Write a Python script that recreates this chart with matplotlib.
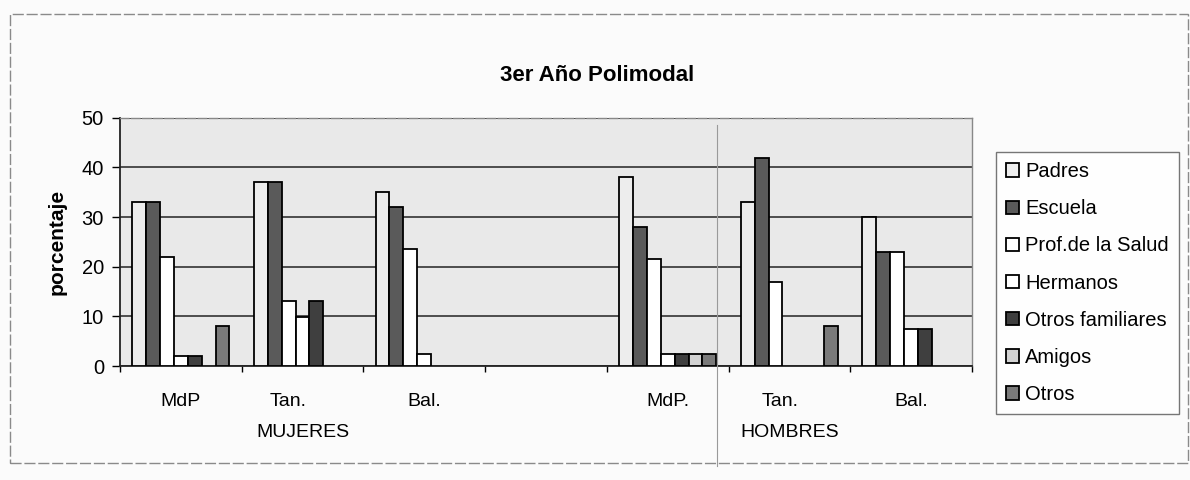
import numpy as np
import matplotlib
matplotlib.use("Agg")
import matplotlib.pyplot as plt
from matplotlib.patches import Rectangle
from matplotlib.lines import Line2D

plt.rcParams['font.family'] = ['Liberation Sans', 'DejaVu Sans']

# ---------------- data ----------------
categories = ['MdP', 'Tan.', 'Bal.', '', 'MdP.', 'Tan.', 'Bal.']
groups = ['MUJERES', 'HOMBRES']
group_center_index = [1, 5]
series_names = ['Padres', 'Escuela', 'Prof.de la Salud', 'Hermanos',
                'Otros familiares', 'Amigos', 'Otros']
padres = [33, 37, 35, 0, 38, 33, 30]
escuela = [33, 37, 32, 0, 28, 42, 23]
prof_salud = [22, 13, 23.5, 0, 21.5, 17, 23]
hermanos = [2, 9.8, 2.5, 0, 2.5, 0, 7.5]
otros_familiares = [2, 13, 0, 0, 2.5, 0, 7.5]
amigos = [0, 0, 0, 0, 2.5, 0, 0]
otros = [8, 0, 0, 0, 2.5, 8, 0]
yticks = [0, 10, 20, 30, 40, 50]

series = [padres, escuela, prof_salud, hermanos, otros_familiares, amigos, otros]

# ---------------- style ----------------
colors = ['#ededed', '#5a5a5a', '#ffffff', '#ffffff', '#3f3f3f', '#d2d2d2', '#7a7a7a']
label_offsets = [0, -0.12, 0, 0, 0, -0.08, 0]

fig = plt.figure(figsize=(11.9, 4.8), dpi=100)
fig.patch.set_facecolor('#fbfbfb')
ax = fig.add_axes([0.1008, 0.2375, 0.716, 0.517])
ax.set_facecolor('#e9e9e9')

n = len(series)
total_w = 0.8
w = total_w / n
x = np.arange(len(categories))
for i, (vals, c, name) in enumerate(zip(series, colors, series_names)):
    pos = x - total_w / 2 + w * (i + 0.5)
    v = np.array(vals, dtype=float)
    v = np.where(v > 0, v, np.nan)
    ax.bar(pos, v, width=w, color=c, edgecolor='black', linewidth=1.3,
           label=name, zorder=3)

ax.set_xlim(-0.5, len(categories) - 0.5)
ax.set_ylim(0, 50)
ax.set_yticks(yticks)
ax.set_yticklabels([str(t) for t in yticks], fontsize=14.5)
ax.yaxis.grid(True, color='#333333', linewidth=1.2, zorder=1)
ax.set_axisbelow(True)
ax.set_xticks(np.arange(len(categories) + 1) - 0.5)
ax.set_xticklabels([])
ax.tick_params(axis='x', length=4, width=1, direction='out')
ax.tick_params(axis='y', length=5.5, width=1, direction='out', pad=6)

for s in ['left', 'bottom']:
    ax.spines[s].set_color('#222222')
    ax.spines[s].set_linewidth(1.3)
for s in ['top', 'right']:
    ax.spines[s].set_color('#888888')
    ax.spines[s].set_linewidth(1.0)
ax.spines['top'].set_linestyle((0, (6, 2)))

for i, lab in enumerate(categories):
    if lab:
        ax.text(i + label_offsets[i], -7.1, lab, ha='center', va='center',
                fontsize=14, clip_on=False)
for gi, g in zip(group_center_index, groups):
    ax.text(gi, -13.3, g, ha='center', va='center', fontsize=14, clip_on=False)

ax.set_ylabel('porcentaje', fontsize=15, fontweight='bold', labelpad=11)

fig.text(0.502, 0.842, '3er Año Polimodal', ha='center', va='center',
         fontsize=16, fontweight='bold')

leg = fig.legend(loc='upper left', bbox_to_anchor=(0.837, 0.683),
                 borderaxespad=0.0,
                 fontsize=14.5, frameon=True, fancybox=False,
                 handlelength=0.65, handleheight=0.65, handletextpad=0.3,
                 labelspacing=0.9, borderpad=0.5, edgecolor='#555555')
leg.get_frame().set_linewidth(1.0)
leg.get_frame().set_facecolor('#ffffff')

# outer chart border
fig.add_artist(Rectangle((0.008, 0.035), 0.99, 0.935, transform=fig.transFigure,
                         fill=False, edgecolor='#8a8a8a', linewidth=1.0,
                         linestyle=(0, (8, 2))))
# faint vertical separator line
fig.add_artist(Line2D([0.6025, 0.6025], [0.03, 0.74], transform=fig.transFigure,
                      color='#9a9a9a', linewidth=0.8))

fig.savefig('out.png', dpi=100, facecolor=fig.get_facecolor())
